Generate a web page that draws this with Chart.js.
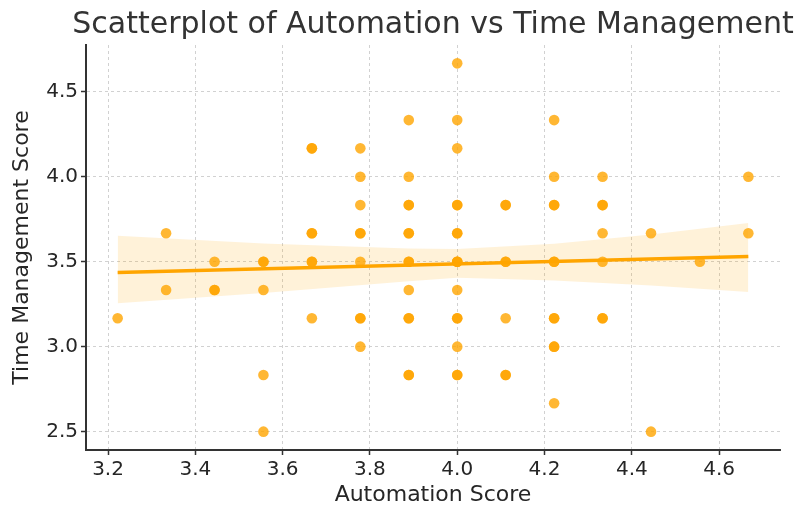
<!DOCTYPE html>
<html>
<head>
<meta charset="utf-8">
<script src="https://cdn.jsdelivr.net/npm/chart.js@4/dist/chart.umd.min.js"></script>
<style>
  html, body { margin: 0; padding: 0; background: #fff; }
  #wrap { width: 794px; height: 506px; position: relative; }
</style>
</head>
<body>
<div id="wrap"><canvas id="c" width="794" height="506"></canvas></div>
<script>
const chartTitle = 'Scatterplot of Automation vs Time Management';
const xAxisTitle = 'Automation Score';
const yAxisTitle = 'Time Management Score';

const xTicks = [3.2, 3.4, 3.6, 3.8, 4.0, 4.2, 4.4, 4.6];
const yTicks = [2.5, 3.0, 3.5, 4.0, 4.5];

// Observations (duplicated entries are overlapping points)
const automation = [
  3.222,
  3.333, 3.333,
  3.444, 3.444, 3.444,
  3.556, 3.556, 3.556, 3.556, 3.556,
  3.667, 3.667, 3.667, 3.667, 3.667, 3.667, 3.667,
  3.778, 3.778, 3.778, 3.778, 3.778, 3.778, 3.778, 3.778, 3.778,
  3.889, 3.889, 3.889, 3.889, 3.889, 3.889, 3.889, 3.889, 3.889, 3.889, 3.889, 3.889, 3.889,
  4.0, 4.0, 4.0, 4.0, 4.0, 4.0, 4.0, 4.0, 4.0, 4.0, 4.0, 4.0, 4.0, 4.0, 4.0, 4.0,
  4.111, 4.111, 4.111, 4.111, 4.111, 4.111, 4.111,
  4.222, 4.222, 4.222, 4.222, 4.222, 4.222, 4.222, 4.222, 4.222, 4.222, 4.222,
  4.333, 4.333, 4.333, 4.333, 4.333, 4.333, 4.333,
  4.444, 4.444,
  4.556,
  4.667, 4.667
];
const timeMgmt = [
  3.167,
  3.667, 3.333,
  3.5, 3.333, 3.333,
  3.5, 3.5, 3.333, 2.833, 2.5,
  4.167, 4.167, 3.667, 3.667, 3.5, 3.5, 3.167,
  4.167, 4.0, 3.833, 3.667, 3.667, 3.5, 3.167, 3.167, 3.0,
  4.333, 4.0, 3.833, 3.833, 3.667, 3.667, 3.5, 3.5, 3.333, 3.167, 3.167, 2.833, 2.833,
  4.667, 4.333, 4.167, 3.833, 3.833, 3.667, 3.667, 3.5, 3.5, 3.5, 3.333, 3.167, 3.167, 3.0, 2.833, 2.833,
  3.833, 3.833, 3.5, 3.5, 3.167, 2.833, 2.833,
  4.333, 4.0, 3.833, 3.833, 3.5, 3.5, 3.167, 3.167, 3.0, 3.0, 2.667,
  4.0, 3.833, 3.833, 3.667, 3.5, 3.167, 3.167,
  3.667, 2.5,
  3.5,
  4.0, 3.667
];

// Regression line and confidence band
const regX = [3.222, 4.667];
const regY = [3.437, 3.530];
const bandX = [3.222, 3.556, 3.889, 4.0, 4.222, 4.444, 4.667];
const bandUpper = [3.652, 3.607, 3.578, 3.575, 3.605, 3.660, 3.728];
const bandLower = [3.255, 3.316, 3.385, 3.405, 3.390, 3.360, 3.322];

const pts = (xs, ys) => xs.map((x, i) => ({ x: x, y: ys[i] }));

const FONT = "'DejaVu Sans', sans-serif";
const ORANGE = '#FFA500';

const titlePlugin = {
  id: 'mplTitle',
  afterDraw(chart) {
    const { ctx, chartArea } = chart;
    ctx.save();
    ctx.font = '30px ' + FONT;
    ctx.fillStyle = '#333333';
    ctx.textAlign = 'center';
    ctx.textBaseline = 'alphabetic';
    ctx.fillText(chartTitle, (chartArea.left + chartArea.right) / 2, 33);
    ctx.restore();
  }
};

new Chart(document.getElementById('c'), {
  type: 'scatter',
  data: {
    datasets: [
      {
        label: 'fit',
        data: pts(regX, regY),
        showLine: true,
        borderColor: ORANGE,
        borderWidth: 3.5,
        pointRadius: 0,
        fill: false,
        order: 0
      },
      {
        label: 'points',
        data: pts(automation, timeMgmt),
        backgroundColor: 'rgba(255,165,0,0.8)',
        borderWidth: 0,
        pointRadius: 5.3,
        pointHoverRadius: 5.3,
        order: 1
      },
      {
        label: 'upper',
        data: pts(bandX, bandUpper),
        showLine: true,
        borderWidth: 0,
        borderColor: 'rgba(0,0,0,0)',
        pointRadius: 0,
        fill: '+1',
        backgroundColor: 'rgba(255,165,0,0.15)',
        order: 2
      },
      {
        label: 'lower',
        data: pts(bandX, bandLower),
        showLine: true,
        borderWidth: 0,
        borderColor: 'rgba(0,0,0,0)',
        pointRadius: 0,
        fill: false,
        order: 2
      }
    ]
  },
  options: {
    responsive: false,
    animation: false,
    events: [],
    layout: { padding: { top: 45, right: 14, bottom: 0, left: 0 } },
    plugins: {
      legend: { display: false },
      tooltip: { enabled: false },
      title: { display: false }
    },
    scales: {
      x: {
        type: 'linear',
        min: 3.1495,
        max: 4.7395,
        afterBuildTicks: (axis) => { axis.ticks = xTicks.map(v => ({ value: v })); },
        afterFit: (scale) => { scale.height = 56; },
        ticks: {
          font: { family: FONT, size: 20 },
          color: '#262626',
          padding: 3,
          maxRotation: 0,
          callback: (v) => Number(v).toFixed(1)
        },
        grid: {
          color: '#cccccc',
          lineWidth: 0.9,
          tickColor: '#333333',
          tickLength: 5,
          tickWidth: 1.5
        },
        border: { display: true, color: '#333333', width: 2, dash: [3, 3] },
        title: {
          display: true,
          text: xAxisTitle,
          font: { family: FONT, size: 22 },
          color: '#262626',
          padding: { top: 0, bottom: -2 }
        }
      },
      y: {
        type: 'linear',
        min: 2.392,
        max: 4.775,
        afterBuildTicks: (axis) => { axis.ticks = yTicks.map(v => ({ value: v })); },
        afterFit: (scale) => { scale.width = 86; },
        ticks: {
          font: { family: FONT, size: 20 },
          color: '#262626',
          padding: 3,
          callback: (v) => Number(v).toFixed(1)
        },
        grid: {
          color: '#cccccc',
          lineWidth: 0.9,
          tickColor: '#333333',
          tickLength: 5,
          tickWidth: 1.5
        },
        border: { display: true, color: '#333333', width: 2, dash: [3, 3] },
        title: {
          display: true,
          text: yAxisTitle,
          font: { family: FONT, size: 22 },
          color: '#262626',
          padding: { top: 9, bottom: 0 }
        }
      }
    }
  },
  plugins: [titlePlugin]
});
</script>
</body>
</html>
